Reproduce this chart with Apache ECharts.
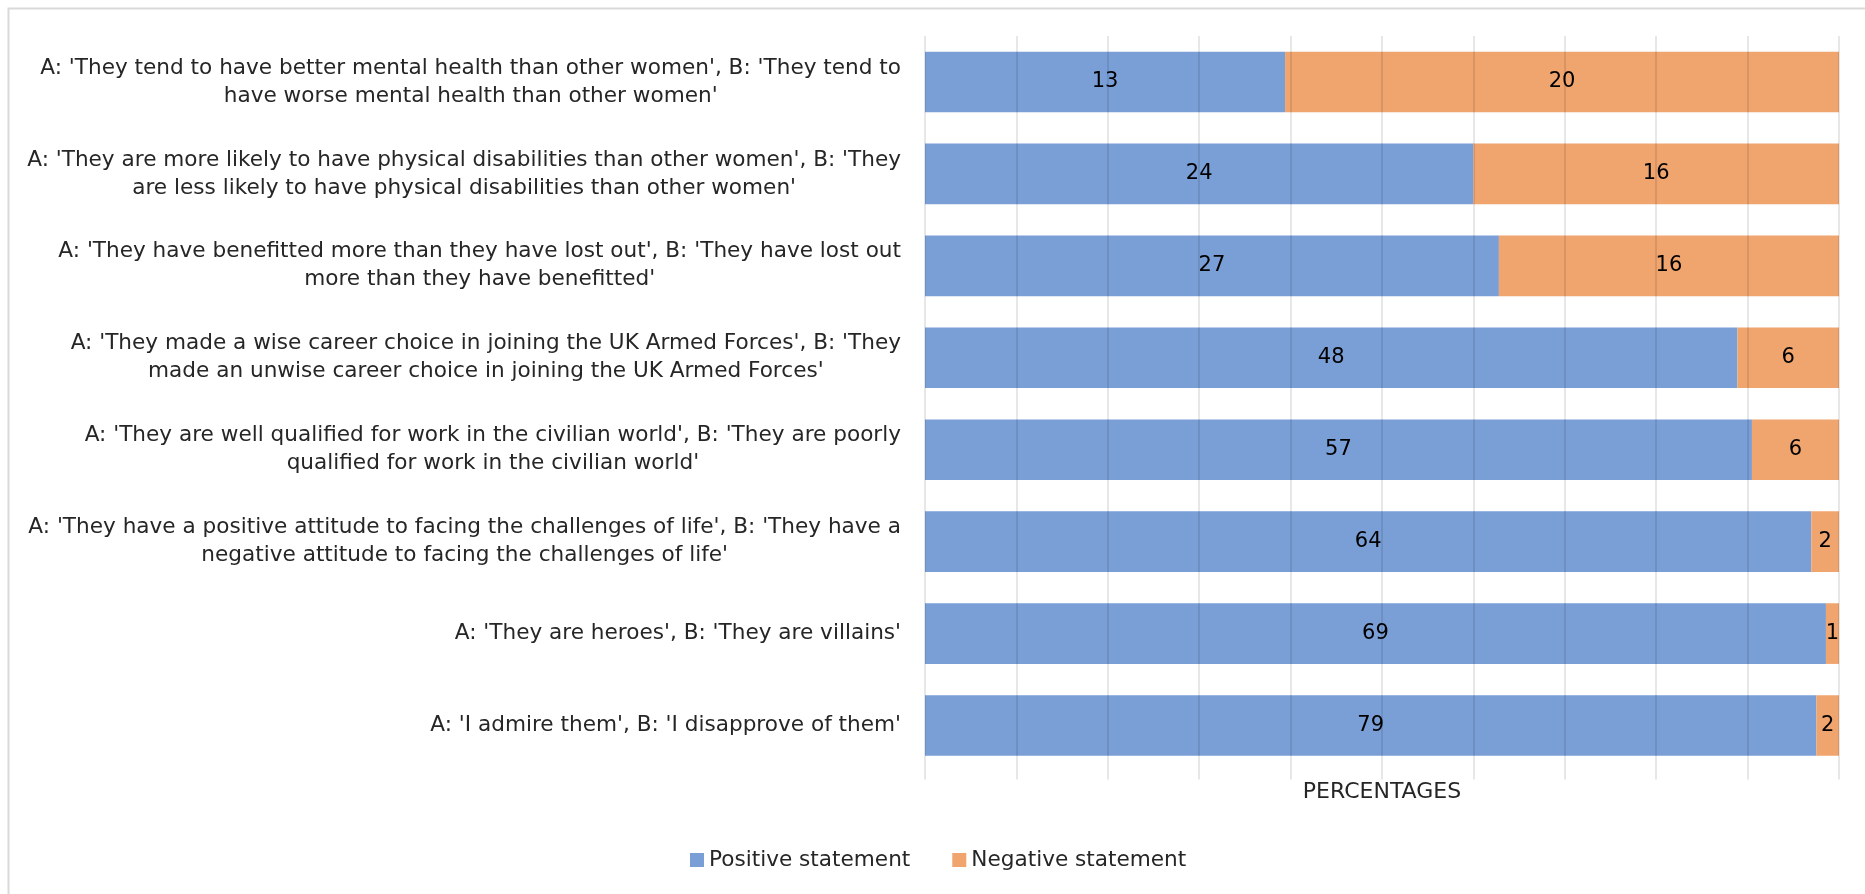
<!DOCTYPE html>
<html>
<head>
<meta charset="utf-8">
<script src="https://cdn.jsdelivr.net/npm/echarts@6/dist/echarts.min.js"></script>
<style>
html,body{margin:0;padding:0;background:#fff;}
#chart{width:1865px;height:894px;}
</style>
</head>
<body>
<div id="chart"></div>
<script>
const categories = [
  "A: 'They tend to have better mental health than other women', B: 'They tend to\nhave worse mental health than other women'",
  "A: 'They are more likely to have physical disabilities than other women', B: 'They\nare less likely to have physical disabilities than other women'",
  "A: 'They have benefitted more than they have lost out', B: 'They have lost out\nmore than they have benefitted'",
  "A: 'They made a wise career choice in joining the UK Armed Forces', B: 'They\nmade an unwise career choice in joining the UK Armed Forces'",
  "A: 'They are well qualified for work in the civilian world', B: 'They are poorly\nqualified for work in the civilian world'",
  "A: 'They have a positive attitude to facing the challenges of life', B: 'They have a\nnegative attitude to facing the challenges of life'",
  "A: 'They are heroes', B: 'They are villains'",
  "A: 'I admire them', B: 'I disapprove of them'"
];
const positiveValues = [13, 24, 27, 48, 57, 64, 69, 79];
const negativeValues = [20, 16, 16, 6, 6, 2, 1, 2];
const seriesNames = ["Positive statement", "Negative statement"];
const axisName = "PERCENTAGES";

const FONT = "'DejaVu Sans', sans-serif";
const TEXT = '#262626';

const totals = positiveValues.map((v, i) => v + negativeValues[i]);
const posPct = positiveValues.map((v, i) => v / totals[i] * 100);
const negPct = negativeValues.map((v, i) => v / totals[i] * 100);

const chart = echarts.init(document.getElementById('chart'));
chart.setOption({
  backgroundColor: '#fff',
  animation: false,
  textStyle: { fontFamily: FONT },
  graphic: [{
    type: 'rect', left: 6, top: 6, silent: true,
    shape: { width: 1880, height: 910 },
    style: { fill: 'none', stroke: '#d9d9d9', lineWidth: 2 }
  }],
  legend: {
    left: 685, top: 844,
    itemWidth: 14, itemHeight: 14, itemGap: 42,
    icon: 'rect',
    textStyle: { fontSize: 21.6, color: TEXT, fontFamily: FONT },
    data: seriesNames
  },
  grid: { left: 925, right: 26, top: 36, bottom: 122.5, containLabel: false, outerBoundsMode: 'none' },
  xAxis: {
    type: 'value', min: 0, max: 100, interval: 10,
    z: 5,
    name: axisName, nameLocation: 'middle', nameGap: 10,
    nameTextStyle: { fontSize: 22, color: TEXT, fontFamily: FONT },
    axisLabel: { show: false },
    axisLine: { show: false },
    axisTick: { show: true, length: 8, lineStyle: { color: 'rgba(0,0,0,0.13)', width: 1.5 } },
    splitLine: { show: true, lineStyle: { color: 'rgba(0,0,0,0.13)', width: 1.5 } }
  },
  yAxis: {
    type: 'category', inverse: true, data: categories,
    axisLine: { show: false }, axisTick: { show: false },
    axisLabel: {
      margin: 24, align: 'right',
      formatter: function (v) {
        return v.split('\n').map(function (s) { return '{c|' + s + '}'; }).join('\n');
      },
      rich: { c: { align: 'center', fontSize: 21.6, lineHeight: 28, color: TEXT, fontFamily: FONT } }
    }
  },
  series: [
    {
      name: seriesNames[0], type: 'bar', stack: 'total', barCategoryGap: '34%',
      itemStyle: { color: '#7A9ED6' },
      label: { show: true, position: 'inside', color: '#000', fontSize: 21, fontFamily: FONT,
        formatter: function (p) { return positiveValues[p.dataIndex]; } },
      data: posPct
    },
    {
      name: seriesNames[1], type: 'bar', stack: 'total', barCategoryGap: '34%',
      itemStyle: { color: '#F0A46E' },
      label: { show: true, position: 'inside', color: '#000', fontSize: 21, fontFamily: FONT,
        formatter: function (p) { return negativeValues[p.dataIndex]; } },
      data: negPct
    }
  ]
});
</script>
</body>
</html>
